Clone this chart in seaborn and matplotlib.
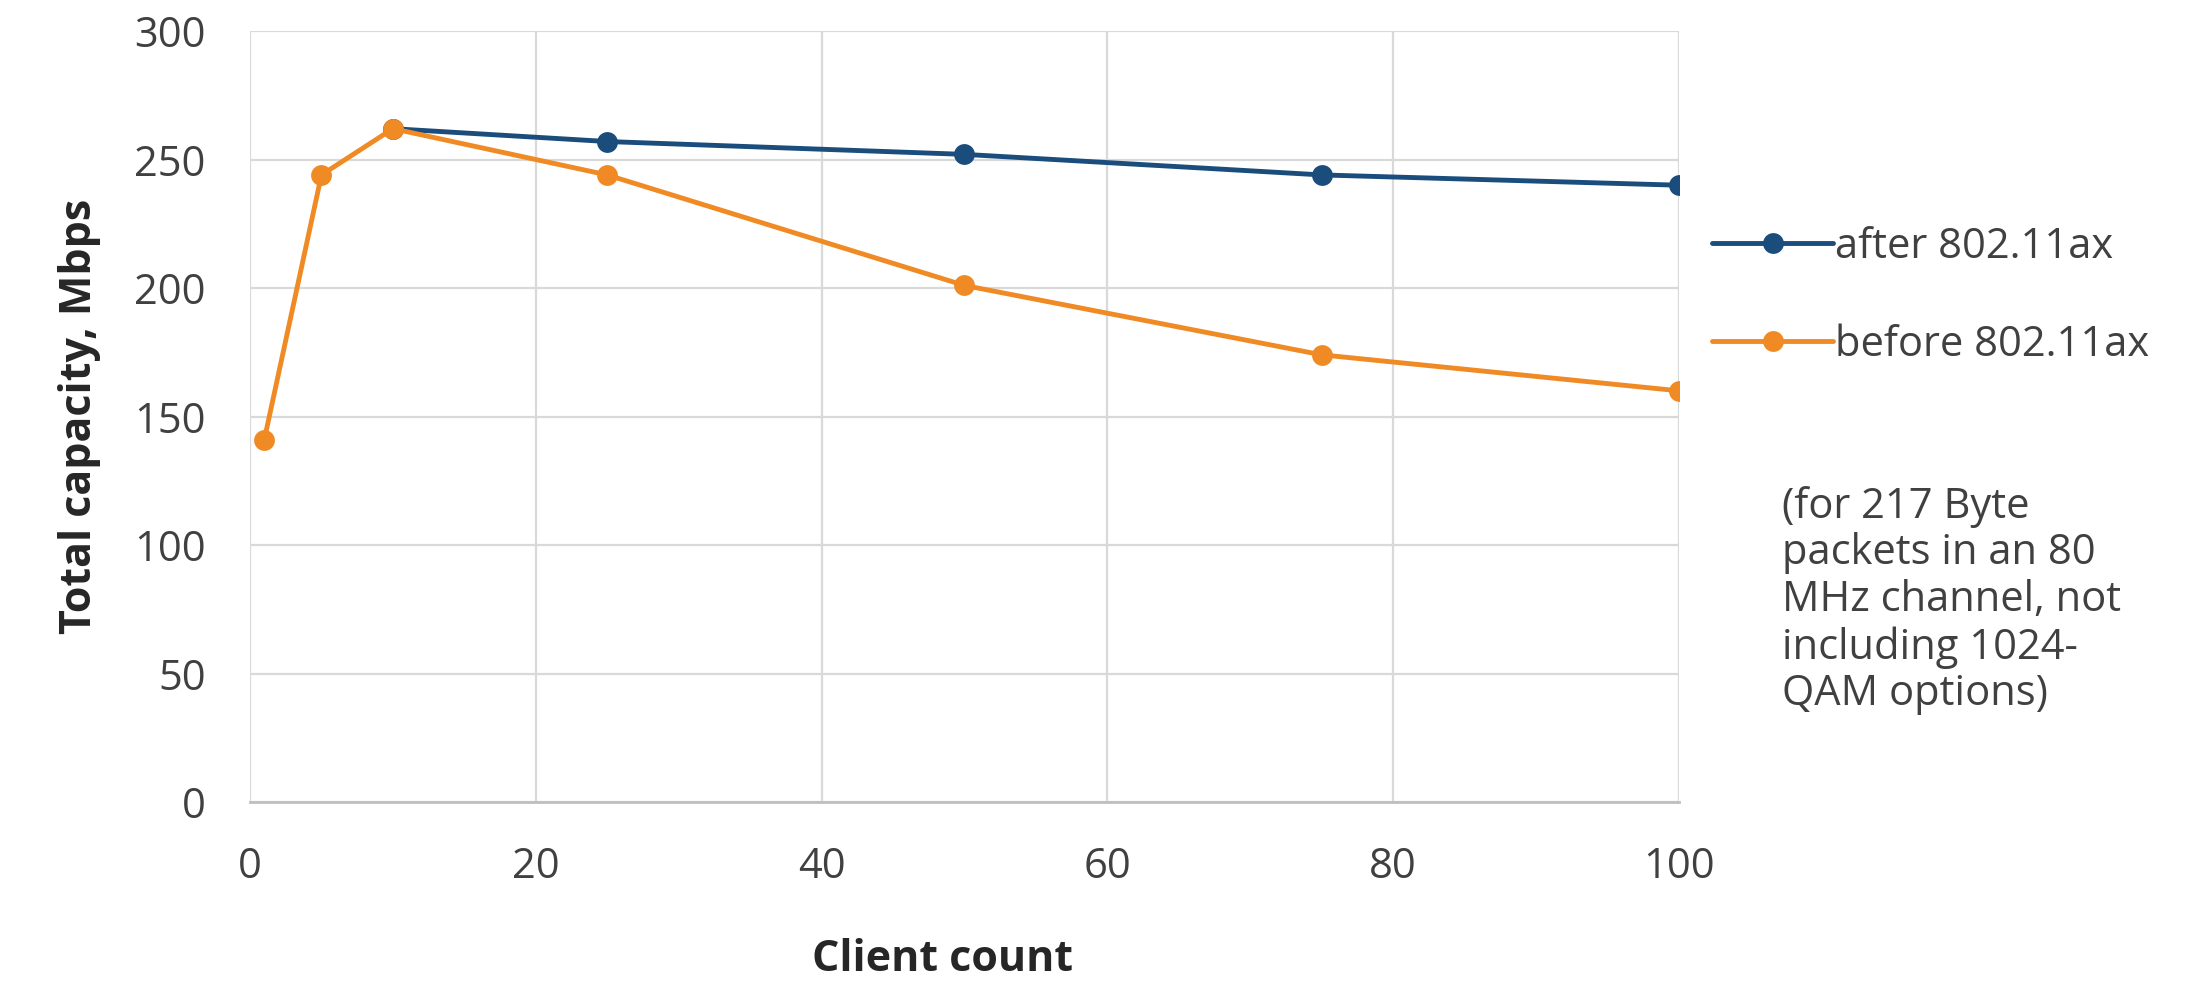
import matplotlib
matplotlib.use("Agg")
import matplotlib.pyplot as plt
import pandas as pd
import seaborn as sns

# values
after_clients = [10, 25, 50, 75, 100]
after_capacity = [262, 257, 252, 244, 240]
before_clients = [1, 5, 10, 25, 50, 75, 100]
before_capacity = [141, 244, 262, 244, 201, 174, 160]

series_names = ["after 802.11ax", "before 802.11ax"]
series_colors = ["#1A4C7C", "#F08A24"]

x_ticks = [0, 20, 40, 60, 80, 100]
y_ticks = [0, 50, 100, 150, 200, 250, 300]

note = "(for 217 Byte\npackets in an 80\nMHz channel, not\nincluding 1024-\nQAM options)"


def main() -> None:
    df = pd.concat(
        [
            pd.DataFrame({"clients": after_clients, "capacity": after_capacity, "series": series_names[0]}),
            pd.DataFrame({"clients": before_clients, "capacity": before_capacity, "series": series_names[1]}),
        ],
        ignore_index=True,
    )

    sns.set_theme(style="white")
    plt.rcParams["font.family"] = ["Open Sans", "DejaVu Sans"]

    fig = plt.figure(figsize=(21.95, 9.91), dpi=100)
    ax = fig.add_axes([0.1139, 0.1907, 0.651, 0.778])

    sns.lineplot(
        data=df,
        x="clients",
        y="capacity",
        hue="series",
        hue_order=series_names,
        palette=dict(zip(series_names, series_colors)),
        marker="o",
        markersize=15,
        markeredgewidth=0,
        linewidth=3.5,
        ax=ax,
        legend=False,
        zorder=3,
    )

    ax.set_xlim(0, 100)
    ax.set_ylim(0, 300)
    ax.set_xticks(x_ticks)
    ax.set_yticks(y_ticks)
    ax.grid(True, color="#D9D9D9", linewidth=1.6)
    for side in ["top", "right", "left"]:
        ax.spines[side].set_visible(False)
    ax.spines["bottom"].set_color("#BFBFBF")
    ax.spines["bottom"].set_linewidth(2)
    ax.tick_params(axis="both", length=0, labelsize=30, labelcolor="#404040")
    ax.tick_params(axis="x", pad=32)
    ax.tick_params(axis="y", pad=32)

    ax.set_xlabel("Client count", fontsize=31, fontweight="bold", color="#262626", labelpad=36)
    ax.set_ylabel("Total capacity, Mbps", fontsize=31, fontweight="bold", color="#262626", labelpad=24)
    ax.xaxis.label.set_x(0.485)

    handles = [
        plt.Line2D([], [], color=c, linewidth=3.5, marker="o", markersize=15, markeredgewidth=0)
        for c in series_colors
    ]
    fig.legend(
        handles=handles,
        labels=series_names,
        loc="upper left",
        bbox_to_anchor=(0.763, 0.81),
        frameon=False,
        fontsize=30,
        handlelength=2.9,
        handletextpad=0.05,
        labelspacing=1.35,
        labelcolor="#404040",
    )

    fig.text(0.812, 0.51, note, fontsize=30, color="#404040", va="top", ha="left", linespacing=1.15)

    fig.savefig("out.png", dpi=100)
    plt.close(fig)


if __name__ == "__main__":
    main()
